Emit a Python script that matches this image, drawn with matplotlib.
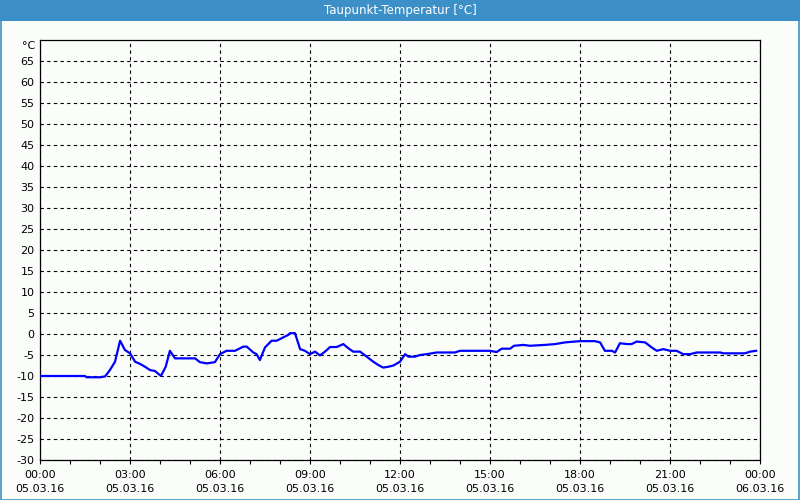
import matplotlib
matplotlib.use("Agg")
import matplotlib.pyplot as plt
from matplotlib.patches import Rectangle

# Dew point readings, 05.03.16 (hours since midnight, degC)
hours = [0.0, 1.5, 1.55, 2.0, 2.17, 2.33, 2.5, 2.67, 2.83, 3.0, 3.17, 3.33, 3.5,
         3.67, 3.83, 4.03, 4.19, 4.33, 4.5, 5.17, 5.33, 5.56, 5.83, 6.0, 6.22,
         6.5, 6.78, 6.89, 7.11, 7.22, 7.33, 7.5, 7.72, 7.89, 8.11, 8.28, 8.33,
         8.5, 8.67, 8.83, 9.0, 9.17, 9.33, 9.5, 9.67, 9.89, 10.11, 10.28, 10.44,
         10.67, 10.89, 11.11, 11.28, 11.44, 11.61, 11.78, 12.0, 12.17, 12.28,
         12.5, 12.67, 12.89, 13.22, 13.83, 14.0, 15.0, 15.22, 15.39, 15.67,
         15.8, 16.11, 16.33, 16.83, 17.17, 17.5, 18.0, 18.5, 18.67, 18.83,
         19.06, 19.17, 19.33, 19.56, 19.72, 19.89, 20.17, 20.39, 20.56, 20.78,
         21.0, 21.22, 21.44, 21.67, 21.89, 22.67, 22.78, 23.5, 23.67, 23.87]
dewpoint = [-10.0, -10.0, -10.3, -10.3, -10.1, -8.6, -6.6, -1.6, -3.8, -4.6,
            -6.6, -7.1, -7.8, -8.6, -8.8, -10.0, -7.8, -4.0, -5.8, -5.8, -6.7,
            -7.0, -6.7, -4.8, -4.0, -4.0, -3.0, -3.0, -4.4, -4.8, -6.2, -3.2,
            -1.6, -1.6, -0.8, -0.2, 0.2, 0.2, -3.6, -4.0, -4.8, -4.2, -5.1,
            -4.2, -3.1, -3.1, -2.4, -3.4, -4.2, -4.2, -5.4, -6.6, -7.4, -8.0,
            -7.8, -7.5, -6.6, -4.8, -5.4, -5.4, -5.0, -4.8, -4.4, -4.4, -4.0,
            -4.0, -4.3, -3.5, -3.5, -2.8, -2.6, -2.8, -2.6, -2.4, -2.0, -1.7,
            -1.7, -2.0, -4.0, -4.0, -4.4, -2.2, -2.4, -2.4, -1.8, -2.0, -3.2,
            -4.0, -3.6, -4.0, -4.0, -4.8, -4.8, -4.4, -4.4, -4.6, -4.6, -4.2,
            -4.0]

tick_hours = [0, 3, 6, 9, 12, 15, 18, 21, 24]
tick_labels = ["00:00\n05.03.16", "03:00\n05.03.16", "06:00\n05.03.16",
               "09:00\n05.03.16", "12:00\n05.03.16", "15:00\n05.03.16",
               "18:00\n05.03.16", "21:00\n05.03.16", "00:00\n06.03.16"]
y_ticks = list(range(-30, 70, 5))
title = "Taupunkt-Temperatur [°C]"

bg = "#fbfdfb"
bar_blue = "#3d90c7"

fig = plt.figure(figsize=(8, 5), dpi=100, facecolor=bg)
ax = fig.add_axes([40 / 800, 40 / 500, 720 / 800, 420 / 500], facecolor=bg)

ax.plot(hours, dewpoint, color="#0000ff", linewidth=1.6, zorder=3)

ax.set_xlim(0, 24)
ax.set_ylim(-30, 70)
ax.set_xticks(tick_hours)
ax.set_xticklabels(tick_labels, linespacing=1.55)
ax.set_xticks(range(0, 25), minor=True)
ax.set_yticks(y_ticks)
ax.set_yticklabels([str(v) for v in y_ticks])

ax.tick_params(axis="x", which="both", direction="out", length=3, width=0.8,
               pad=4, labelsize=8, colors="black")
ax.tick_params(axis="y", length=0, pad=4, labelsize=8)

ax.grid(True, which="major", color="black", linestyle=(0, (3, 3)), linewidth=0.8)
for s in ax.spines.values():
    s.set_color("black")
    s.set_linewidth(0.9)

# unit label above the y axis
ax.annotate("°C", xy=(0, 1), xycoords="axes fraction", xytext=(-3.5, -4),
            textcoords="offset points", ha="right", va="center", fontsize=8)

# title bar and window frame
fig.patches.append(Rectangle((0, 1 - 21 / 500), 1, 21 / 500, transform=fig.transFigure,
                             facecolor=bar_blue, edgecolor="none", zorder=0))
fig.patches.append(Rectangle((0.001, 0.001), 0.998, 0.998, transform=fig.transFigure,
                             facecolor="none", edgecolor=bar_blue, linewidth=1.2))
fig.text(0.5, 1 - 10.5 / 500, title, color="white", ha="center", va="center",
         fontsize=8.5)

fig.savefig("out.png", dpi=100, facecolor=bg)
